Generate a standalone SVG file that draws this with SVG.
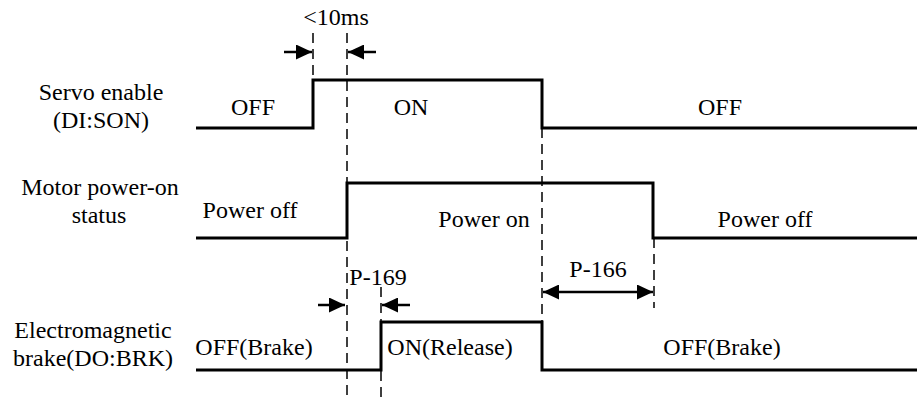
<svg xmlns="http://www.w3.org/2000/svg" width="917" height="400" viewBox="0 0 917 400">
<defs>
<marker id="ah" viewBox="0 0 16 15" refX="16" refY="7.5" markerWidth="16" markerHeight="15" markerUnits="userSpaceOnUse" orient="auto-start-reverse">
<path d="M0,0 L16,7.5 L0,15 Z" fill="#000"/>
</marker>
<style>
text{font-family:"Liberation Serif","Times New Roman",serif;font-size:24px;fill:#000;text-anchor:middle}
.sig{fill:none;stroke:#000;stroke-width:3}
.dash{fill:none;stroke:#000;stroke-width:1.5;stroke-dasharray:10 6}
.arr{fill:none;stroke:#000;stroke-width:2.5}
</style>
</defs>
<rect width="917" height="400" fill="#fff"/>
<g id="connectors">
<path class="dash" d="M313,33 V80"/>
<path class="dash" d="M347,33 V400"/>
<path class="dash" d="M381,287 V322 M381,371 V400"/>
<path class="dash" d="M542,128 V322"/>
<path class="dash" d="M654,238 V308"/>
<path class="arr" d="M284,52 H312" marker-end="url(#ah)"/>
<path class="arr" d="M376,52 H348" marker-end="url(#ah)"/>
<path class="arr" d="M318,305 H345" marker-end="url(#ah)"/>
<path class="arr" d="M410,305 H382" marker-end="url(#ah)"/>
<path class="arr" d="M543,292 H653" marker-start="url(#ah)" marker-end="url(#ah)"/>
</g>
<g id="servo-enable">
<path class="sig" d="M196,128 H313 V80 H542 V128 H917"/>
<text x="101" y="100">Servo enable</text>
<text x="101" y="128">(DI:SON)</text>
<text x="253" y="115">OFF</text>
<text x="411" y="115">ON</text>
<text x="720" y="115">OFF</text>
</g>
<g id="motor-power">
<path class="sig" d="M196,238 H347 V183 H653 V238 H917"/>
<text x="100" y="195">Motor power-on</text>
<text x="99" y="223">status</text>
<text x="250" y="218">Power off</text>
<text x="484" y="227">Power on</text>
<text x="765" y="227">Power off</text>
</g>
<g id="brake">
<path class="sig" d="M196,370 H381 V322 H542 V370 H917"/>
<text x="93" y="338">Electromagnetic</text>
<text x="93" y="366">brake(DO:BRK)</text>
<text x="254" y="355">OFF(Brake)</text>
<text x="450" y="355">ON(Release)</text>
<text x="722" y="355">OFF(Brake)</text>
</g>
<g id="labels">
<text x="336" y="25">&lt;10ms</text>
<text x="378" y="285">P-169</text>
<text x="598" y="277">P-166</text>
</g>
</svg>
